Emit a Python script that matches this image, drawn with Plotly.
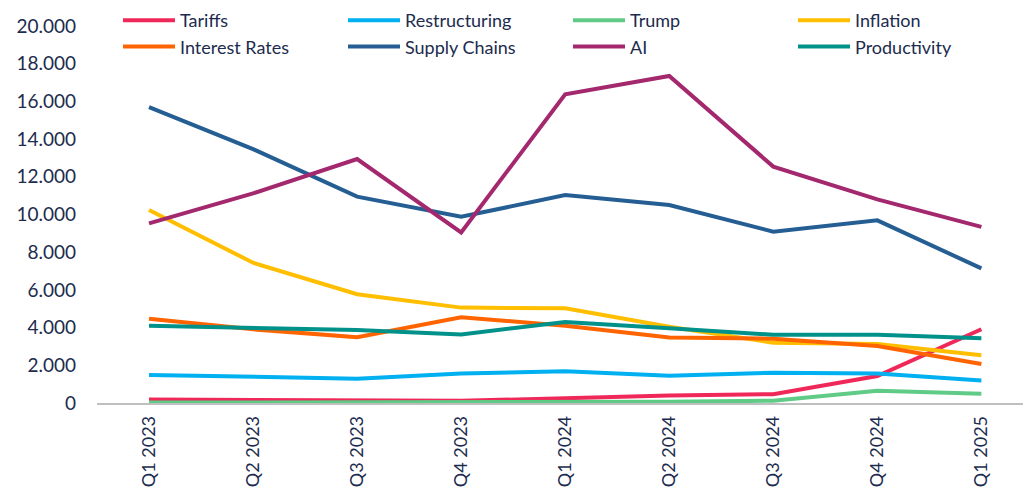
import plotly.graph_objects as go

quarters = ["Q1 2023", "Q2 2023", "Q3 2023", "Q4 2023", "Q1 2024",
            "Q2 2024", "Q3 2024", "Q4 2024", "Q1 2025"]

tariffs = [180, 150, 100, 120, 250, 400, 470, 1430, 3910]
restructuring = [1490, 1400, 1290, 1560, 1680, 1450, 1610, 1570, 1200]
trump = [20, 20, 20, 30, 50, 60, 120, 650, 490]
inflation = [10240, 7440, 5770, 5060, 5020, 4050, 3200, 3130, 2530]
interest_rates = [4470, 3910, 3490, 4550, 4100, 3470, 3410, 3020, 2070]
supply_chains = [15700, 13470, 10950, 9880, 11030, 10500, 9090, 9690, 7140]
ai = [9530, 11120, 12940, 9050, 16380, 17350, 12540, 10800, 9340]
productivity = [4100, 4010, 3870, 3640, 4300, 3960, 3620, 3620, 3430]

series = [
    ("Tariffs", tariffs, "#F0285A"),
    ("Restructuring", restructuring, "#00B0F0"),
    ("Trump", trump, "#5FCB87"),
    ("Inflation", inflation, "#FFBE00"),
    ("Interest Rates", interest_rates, "#FF6400"),
    ("Supply Chains", supply_chains, "#245E93"),
    ("AI", ai, "#A3286E"),
    ("Productivity", productivity, "#00928A"),
]

text_color = "#1C2B4E"
font_family = "Lato, 'Open Sans', sans-serif"

fig = go.Figure()
for name, values, color in series:
    fig.add_trace(go.Scatter(
        x=quarters, y=values, name=name, mode="lines",
        line=dict(color=color, width=4),
    ))

fig.update_layout(
    width=1023, height=498,
    margin=dict(l=97, r=0, t=26, b=95, autoexpand=False),
    paper_bgcolor="white", plot_bgcolor="white",
    separators=",.",
    font=dict(family=font_family, color=text_color, size=19),
    legend=dict(
        orientation="h",
        x=118 / 1023, xref="container", xanchor="left",
        y=1 - 2 / 498, yref="container", yanchor="top",
        entrywidth=158, entrywidthmode="pixels",
        itemwidth=52, tracegroupgap=0,
        font=dict(size=18, color=text_color),
        bgcolor="rgba(0,0,0,0)",
    ),
    showlegend=True,
)

fig.update_xaxes(
    type="category", range=[-0.5, 8.4],
    showgrid=False, zeroline=False,
    showline=True, linecolor="#BFBFBF", linewidth=1.5,
    tickangle=-90, tickfont=dict(size=18, color=text_color),
    ticks="", ticklabelstandoff=4,
)
fig.update_yaxes(
    range=[0, 20000], dtick=2000, tickformat=",.0f",
    showgrid=False, zeroline=False, showline=False,
    tickfont=dict(size=19, color=text_color),
    ticklabelstandoff=20,
)

fig.write_html("out.html")
